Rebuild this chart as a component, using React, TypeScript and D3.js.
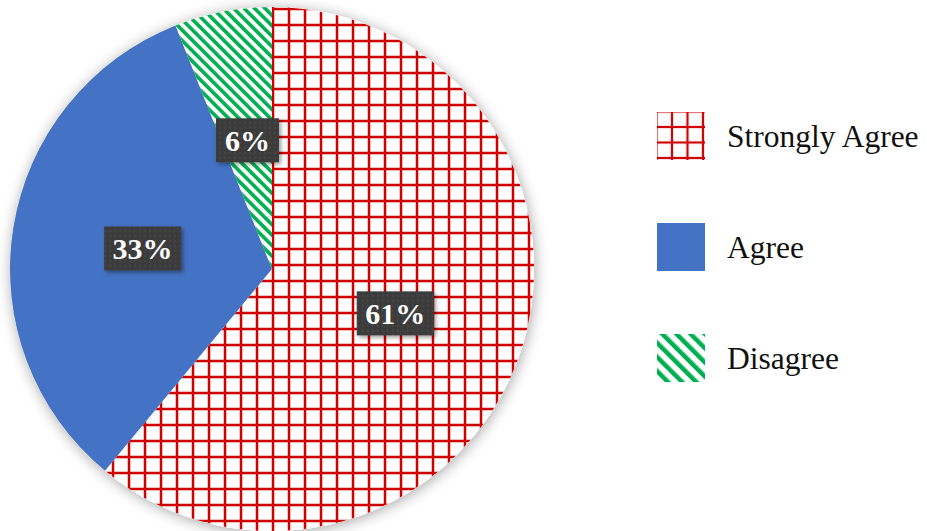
import React from "react";
import * as d3 from "d3";

const categories = ["Strongly Agree", "Agree", "Disagree"];
const values = [61, 33, 6];
const labels = ["61%", "33%", "6%"];

const W = 927;
const H = 531;
const cx = 272;
const cy = 269;
const R = 262;
const FONT = "'Liberation Serif', 'Times New Roman', serif";

export default function App() {
  const pie = d3.pie<number>().sort(null).startAngle(0).endAngle(2 * Math.PI);
  const arcs = pie(values);
  const arc = d3.arc<d3.PieArcDatum<number>>().innerRadius(0).outerRadius(R);
  const fills = ["url(#grid)", "#4472C4", "url(#stripes)"];
  const legendFills = ["url(#gridL)", "#4472C4", "url(#stripesL)"];
  const gridStep = 16;
  const legendY = d3.scalePoint<string>().domain(categories).range([135, 357]);

  return (
    <svg
      width={W}
      height={H}
      viewBox={`0 0 ${W} ${H}`}
      style={{ position: "absolute", left: 0, top: 0, background: "#fff" }}
    >
      <defs>
        <pattern
          id="grid"
          patternUnits="userSpaceOnUse"
          width={gridStep}
          height={gridStep}
          x={((cx + 1) % gridStep) - gridStep / 2}
          y={(12 % gridStep) - gridStep / 2}
        >
          <rect width={gridStep} height={gridStep} fill="#fff" />
          <rect x={gridStep / 2 - 1.25} y={0} width={2.5} height={gridStep} fill="#D00000" />
          <rect x={0} y={gridStep / 2 - 1.25} width={gridStep} height={2.5} fill="#D00000" />
        </pattern>
        <pattern
          id="gridL"
          patternUnits="userSpaceOnUse"
          width={15.5}
          height={15.5}
          x={672 - 15.5 / 2}
          y={127 - 15.5 / 2}
        >
          <rect width={15.5} height={15.5} fill="#fff" />
          <rect x={15.5 / 2 - 1.1} y={0} width={2.2} height={15.5} fill="#D00000" />
          <rect x={0} y={15.5 / 2 - 1.1} width={15.5} height={2.2} fill="#D00000" />
        </pattern>
        <pattern
          id="stripes"
          patternUnits="userSpaceOnUse"
          width={7.4}
          height={20}
          patternTransform="rotate(-45)"
        >
          <rect width={7.4} height={20} fill="#fff" />
          <rect x={0} width={3.6} height={20} fill="#00B050" />
        </pattern>
        <pattern
          id="stripesL"
          patternUnits="userSpaceOnUse"
          width={10}
          height={20}
          patternTransform="rotate(-45)"
        >
          <rect width={10} height={20} fill="#fff" />
          <rect x={0} width={4.5} height={20} fill="#00B050" />
        </pattern>
        <pattern id="dots" patternUnits="userSpaceOnUse" width={5} height={5}>
          <rect width={5} height={5} fill="#3b3b3b" />
          <circle cx={2.5} cy={2.5} r={0.9} fill="#4d4d4d" />
        </pattern>
        <filter id="pieShadow" x="-20%" y="-20%" width="140%" height="140%">
          <feDropShadow dx={1} dy={2} stdDeviation={7} floodColor="#000" floodOpacity={0.35} />
        </filter>
        <filter id="boxShadow" x="-30%" y="-30%" width="160%" height="160%">
          <feDropShadow dx={2} dy={2} stdDeviation={2} floodColor="#000" floodOpacity={0.4} />
        </filter>
      </defs>

      <g transform={`translate(${cx},${cy})`}>
        <circle r={R} fill="#fff" filter="url(#pieShadow)" />
        {arcs.map((a, i) => (
          <path key={categories[i]} d={arc(a) || ""} fill={fills[i]} />
        ))}
        {arcs.map((a, i) => {
          const [x, y] = arc.centroid(a);
          const w = labels[i].length === 2 ? 63 : 77;
          const h = 44;
          return (
            <g key={"l" + i} transform={`translate(${x},${y})`}>
              <rect
                x={-w / 2}
                y={-h / 2}
                width={w}
                height={h}
                fill="url(#dots)"
                filter="url(#boxShadow)"
              />
              <text
                x={0}
                y={10.5}
                textAnchor="middle"
                fontFamily={FONT}
                fontWeight="bold"
                fontSize={30}
                fill="#fff"
              >
                {labels[i]}
              </text>
            </g>
          );
        })}
      </g>

      {categories.map((c, i) => {
        const y = legendY(c) as number;
        return (
          <g key={"lg" + c}>
            <rect x={657} y={y - 23} width={48} height={48} fill={legendFills[i]} />
            <text x={727} y={y + 12} fontFamily={FONT} fontSize={31.5} fill="#111">
              {c}
            </text>
          </g>
        );
      })}
    </svg>
  );
}
